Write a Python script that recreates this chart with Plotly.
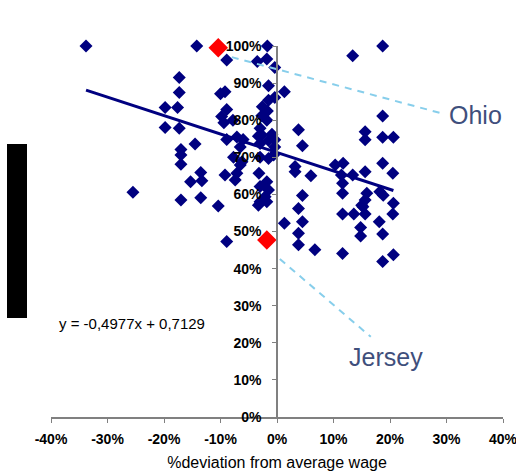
import plotly.graph_objects as go

# ---- data ----
x_vals = [-0.338, -0.142, -0.173, -0.173, -0.198, -0.176, -0.198, -0.173, -0.145, -0.170,
          -0.170, -0.170, -0.135, -0.153, -0.133, -0.255, -0.170, -0.135, -0.104, -0.089,
          -0.089, -0.100, -0.092, -0.089, -0.098, -0.094, -0.089, -0.071, -0.060, -0.077,
          -0.062, -0.092, -0.071, -0.074, -0.065, -0.065, -0.078,
          -0.017, -0.035, -0.018, -0.004, -0.015, 0.013, -0.004, -0.015, -0.026, -0.017,
          -0.027, -0.018, -0.030, -0.027, -0.009, -0.015, -0.033, -0.004, -0.030, -0.004,
          -0.006, -0.015, -0.030, -0.032, -0.018, -0.030, -0.015, -0.021, -0.030, -0.033,
          -0.018, 0.013,
          0.038, 0.045, 0.032, 0.032, 0.060, 0.045, 0.038, 0.045, 0.038, 0.038, 0.067,
          0.134, 0.187, 0.187, 0.156, 0.156, 0.187, 0.206, 0.103, 0.117, 0.114,
          0.134, 0.116, 0.116, 0.156, 0.187, 0.205, 0.159, 0.156, 0.152, 0.182,
          0.188, 0.206, 0.205, 0.116, 0.136, 0.156, 0.148, 0.148, 0.181, 0.187,
          0.206, 0.187, 0.116, 0.150]
y_vals = [1.000, 1.000, 0.915, 0.875, 0.834, 0.834, 0.780, 0.778, 0.736, 0.721,
          0.706, 0.681, 0.659, 0.634, 0.637, 0.606, 0.585, 0.591, 0.569, 0.473,
          0.962, 0.871, 0.877, 0.829, 0.810, 0.793, 0.748, 0.755, 0.748, 0.700,
          0.688, 0.652, 0.657, 0.639, 0.679, 0.728, 0.800,
          1.000, 0.958, 0.965, 0.942, 0.893, 0.877, 0.861, 0.854, 0.836, 0.825,
          0.812, 0.800, 0.778, 0.760, 0.762, 0.745, 0.757, 0.747, 0.737, 0.728,
          0.706, 0.697, 0.700, 0.657, 0.634, 0.621, 0.612, 0.594, 0.580, 0.571,
          0.580, 0.522,
          0.774, 0.731, 0.675, 0.661, 0.650, 0.597, 0.562, 0.526, 0.495, 0.464, 0.451,
          0.974, 1.000, 0.811, 0.769, 0.747, 0.754, 0.754, 0.679, 0.684, 0.652,
          0.652, 0.630, 0.603, 0.661, 0.684, 0.657, 0.603, 0.585, 0.567, 0.607,
          0.598, 0.576, 0.547, 0.547, 0.547, 0.547, 0.511, 0.488, 0.526, 0.493,
          0.437, 0.419, 0.441, 0.571]

highlight_names = ["Ohio", "Jersey"]
highlight_x = [-0.104, -0.018]
highlight_y = [0.995, 0.477]

# leader lines (start, end) and label anchor for each highlighted point
leader_x = [[-0.08, 0.295], [0.005, 0.166]]
leader_y = [[0.970, 0.817], [0.426, 0.216]]
label_x = [0.300, 0.124]
label_y = [0.814, 0.162]

slope = -0.4977
intercept = 0.7129
equation_text = "y = -0,4977x + 0,7129"

x_ticks = [-0.4, -0.3, -0.2, -0.1, 0.0, 0.1, 0.2, 0.3, 0.4]
x_ticktext = ["-40%", "-30%", "-20%", "-10%", "0%", "10%", "20%", "30%", "40%"]
y_ticks = [0.0, 0.1, 0.2, 0.3, 0.4, 0.5, 0.6, 0.7, 0.8, 0.9, 1.0]
y_ticktext = ["0%", "10%", "20%", "30%", "40%", "50%", "60%", "70%", "80%", "90%", "100%"]
x_title = "%deviation from average wage"

# ---- figure ----
FONT = "Liberation Sans, Arial, sans-serif"
NAVY = "#000080"
W, H = 516, 474
ML, MR, MT, MB = 51, 13, 46, 57

fig = go.Figure()

fig.add_trace(go.Scatter(
    x=highlight_x, y=highlight_y, mode="markers",
    marker=dict(symbol="diamond", size=15, color="#FF0000", line=dict(width=0)),
    cliponaxis=False, hoverinfo="skip"))

fig.add_trace(go.Scatter(
    x=x_vals, y=y_vals, mode="markers",
    marker=dict(symbol="diamond", size=10, color=NAVY, line=dict(width=0)),
    cliponaxis=False))

tx = [min(x_vals), max(x_vals)]
fig.add_trace(go.Scatter(
    x=tx, y=[slope * v + intercept for v in tx], mode="lines",
    line=dict(color=NAVY, width=3), hoverinfo="skip"))

for lx, ly in zip(leader_x, leader_y):
    fig.add_trace(go.Scatter(
        x=lx, y=ly, mode="lines",
        line=dict(color="#87CEEB", width=2, dash="7px,6px"), hoverinfo="skip"))

for name, lx, ly in zip(highlight_names, label_x, label_y):
    fig.add_annotation(x=lx, y=ly, text=name, showarrow=False,
                       xanchor="left", yanchor="middle",
                       font=dict(family=FONT, size=25, color="#3F4F7C"))

fig.add_annotation(x=-0.389, y=0.251, text=equation_text, showarrow=False,
                   xanchor="left", yanchor="middle",
                   font=dict(family=FONT, size=15, color="#000000"))

pw = W - ML - MR
ph = H - MT - MB
fig.add_shape(type="rect", xref="paper", yref="paper",
              x0=(7 - ML) / pw, x1=(27 - ML) / pw,
              y0=(H - MB - 318) / ph, y1=(H - MB - 144) / ph,
              fillcolor="#000000", line=dict(width=0))

tickfont = dict(family=FONT, size=14, color="#000000", weight="bold")

fig.update_layout(
    width=W, height=H,
    margin=dict(l=ML, r=MR, t=MT, b=MB, autoexpand=False),
    paper_bgcolor="white", plot_bgcolor="white",
    showlegend=False,
    xaxis=dict(range=[-0.4, 0.4], showgrid=False, zeroline=False, automargin=False,
               showline=True, linecolor="#808080", linewidth=1.5,
               ticks="outside", ticklen=4, tickcolor="#808080",
               tickvals=x_ticks, ticktext=x_ticktext, tickfont=tickfont,
               ticklabelstandoff=4, ticklabeloverflow="allow",
               title=dict(text=x_title, standoff=11,
                          font=dict(family=FONT, size=16, color="#000000"))),
    yaxis=dict(range=[0, 1], anchor="free", position=0.5, automargin=False,
               showgrid=False, zeroline=False,
               showline=True, linecolor="#808080", linewidth=1.5,
               ticks="outside", ticklen=4, tickcolor="#808080",
               tickvals=y_ticks, ticktext=y_ticktext, tickfont=tickfont,
               ticklabelstandoff=8, ticklabeloverflow="allow"),
)

fig.write_html("out.html", config={"displayModeBar": False},
               post_script="document.body.style.margin='0';document.body.style.overflow='hidden';")
